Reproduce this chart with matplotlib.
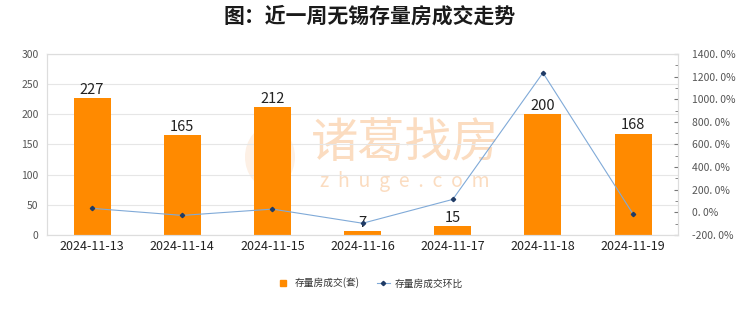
import matplotlib
matplotlib.use("Agg")
import matplotlib.pyplot as plt
from matplotlib.ticker import MultipleLocator, FuncFormatter
from matplotlib.lines import Line2D
from matplotlib.patches import Ellipse

plt.rcParams['font.family'] = ['Noto Sans CJK SC', 'DejaVu Sans']

dates = ['2024-11-13', '2024-11-14', '2024-11-15', '2024-11-16', '2024-11-17', '2024-11-18', '2024-11-19']
volume = [227, 165, 212, 7, 15, 200, 168]
mom_pct = [35.0, -27.3, 28.5, -96.7, 114.3, 1233.3, -16.0]

fig = plt.figure(figsize=(7.4, 3.12), dpi=100)
ax = fig.add_axes([0.0635, 0.247, 0.853, 0.58])
x = list(range(len(dates)))

# watermark (behind bars)
ax.add_patch(Ellipse((270 / 740, 1 - 157 / 312), 50 / 740, 62 / 312, transform=fig.transFigure,
                     facecolor='#fdf0e5', edgecolor='none', zorder=1))
ax.text(405 / 740, 1 - 144 / 312, '诸葛找房', fontsize=34, color='#fbdcc0', ha='center', va='center',
        transform=fig.transFigure, zorder=1)
ax.text(405 / 740, 1 - 181 / 312, 'z  h  u  g  e  .  c  o  m', fontsize=14, color='#fbdcc0', ha='center', va='center',
        transform=fig.transFigure, zorder=1)

ax.bar(x, volume, width=0.41, color='#FF8A00', zorder=2)
for xi, v in zip(x, volume):
    ax.text(xi, v + 2, str(v), ha='center', va='bottom', fontsize=10.5, color='#222222', zorder=5)

ax.set_ylim(0, 300)
ax.set_xlim(-0.5, 6.5)
ax.yaxis.set_major_locator(MultipleLocator(50))
ax.grid(axis='y', color='#e6e6e6', linewidth=0.8, zorder=0)
ax.set_xticks(x)
ax.set_xticklabels(dates, fontsize=9, color='#222222')
ax.tick_params(axis='x', length=0, pad=4)
ax.tick_params(axis='y', length=0, labelsize=7.5, labelcolor='#555555', pad=6)
for s in ax.spines.values():
    s.set_color('#dddddd')
    s.set_linewidth(0.8)

ax2 = ax.twinx()
ax2.plot(x, mom_pct, color='#80aad8', linewidth=0.8, marker='D', markersize=2.2,
         markerfacecolor='#1f3b66', markeredgecolor='#1f3b66', zorder=4)
ax2.set_ylim(-200, 1400)
ax2.yaxis.set_major_locator(MultipleLocator(200))
ax2.yaxis.set_minor_locator(MultipleLocator(100))
ax2.yaxis.set_major_formatter(FuncFormatter(lambda v, p: f"{v:.1f}%".replace('.', '. ')))
ax2.tick_params(axis='y', which='major', length=3, direction='in', color='#777777', labelsize=7.5, labelcolor='#555555', pad=10)
ax2.tick_params(axis='y', which='minor', length=2, direction='in', color='#777777')
for s in ax2.spines.values():
    s.set_color('#dddddd')
    s.set_linewidth(0.8)

fig.text(0.5, 1 - 16 / 312, '图：近一周无锡存量房成交走势', fontsize=15, ha='center', va='center', color='#1a1a1a', weight='bold')

handles = [Line2D([0], [0], linestyle='none', marker='s', markersize=5,
                  markerfacecolor='#FF8A00', markeredgecolor='#FF8A00'),
           Line2D([0], [0], color='#80aad8', linewidth=0.8, marker='D', markersize=2.2,
                  markerfacecolor='#1f3b66', markeredgecolor='#1f3b66')]
fig.legend(handles, ['存量房成交(套)', '存量房成交环比'], loc='center', bbox_to_anchor=(0.5, 1 - 283 / 312),
           ncol=2, frameon=False, fontsize=7, handlelength=1.3, columnspacing=1.8,
           handletextpad=0.5, labelcolor='#333333')

fig.savefig('out.png', dpi=100)
